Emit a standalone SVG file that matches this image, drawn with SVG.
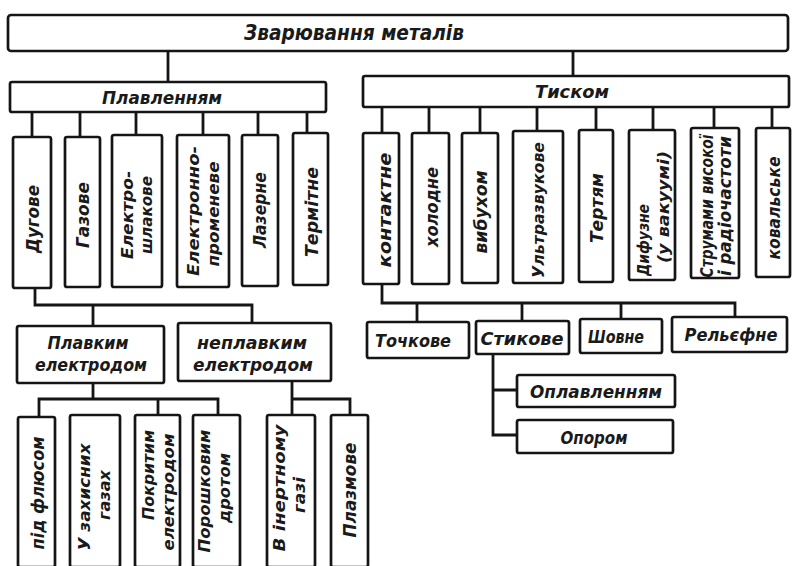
<svg xmlns="http://www.w3.org/2000/svg" width="793" height="566" viewBox="0 0 793 566">
<style>
.b{fill:#fff;stroke:#151515;stroke-width:2.7;}
.c{fill:none;stroke:#151515;stroke-width:2.8;}
text{font-family:"DejaVu Sans Condensed","Liberation Sans Narrow","Liberation Sans",sans-serif;font-style:italic;font-weight:bold;fill:#1a1a1a;text-anchor:middle;dominant-baseline:central;font-size:18px;}
.s{font-size:16px;}
.h{font-size:21px;}
</style>
<rect width="793" height="566" fill="#fff"/>
<g id="connectors">
<path class="c" d="M168 51V82M573 49V76"/>
<path class="c" d="M32 112V137M80 112V137M136 112V135M203 112V135M258 112V135M307 112V133"/>
<path class="c" d="M382 107V133M429 107V133M480 107V133M537 107V131M596 107V130M653 107V130M714 107V128M772 107V128"/>
<path class="c" d="M35 288V305H252V323M93 305V326"/>
<path class="c" d="M93 383V399M39 417V399H218V417M158 399V415"/>
<path class="c" d="M292 381V415M292 399H350V415"/>
<path class="c" d="M382 284V303H735V317M417 303V322M522 303V321M621 303V319"/>
<path class="c" d="M493 354V435H517M493 390H517"/>
</g>
<g id="n-root"><rect class="b" x="8" y="15" width="780" height="36" rx="3"/><text class="h" x="354" y="33" textLength="220" lengthAdjust="spacingAndGlyphs">Зварювання металів</text></g>
<g id="n-plav"><rect class="b" x="10" y="82" width="316" height="30" rx="2"/><text x="162" y="97" font-size="19" textLength="120" lengthAdjust="spacingAndGlyphs">Плавленням</text></g>
<g id="n-tysk"><rect class="b" x="363" y="76" width="426" height="31" rx="2"/><text x="572" y="91" font-size="19" textLength="74" lengthAdjust="spacingAndGlyphs">Тиском</text></g>

<g id="n-dug"><rect class="b" x="13" y="137" width="38" height="151" rx="2"/><text transform="translate(32 219) rotate(-90)" textLength="68" lengthAdjust="spacingAndGlyphs">Дугове</text></g>
<g id="n-gaz"><rect class="b" x="65" y="137" width="35" height="150" rx="2"/><text transform="translate(82 215) rotate(-90)" textLength="66" lengthAdjust="spacingAndGlyphs">Газове</text></g>
<g id="n-elsh"><rect class="b" x="112" y="135" width="50" height="152" rx="2"/><text class="s" transform="translate(127 215) rotate(-90)" textLength="88" lengthAdjust="spacingAndGlyphs">Електро-</text><text class="s" transform="translate(146 215) rotate(-90)" textLength="78" lengthAdjust="spacingAndGlyphs">шлакове</text></g>
<g id="n-elpr"><rect class="b" x="177" y="135" width="52" height="152" rx="2"/><text class="s" transform="translate(193 211) rotate(-90)" textLength="130" lengthAdjust="spacingAndGlyphs">Електронно-</text><text class="s" transform="translate(213 214) rotate(-90)" textLength="105" lengthAdjust="spacingAndGlyphs">променеве</text></g>
<g id="n-laz"><rect class="b" x="242" y="135" width="36" height="151" rx="2"/><text transform="translate(259 210) rotate(-90)" textLength="76" lengthAdjust="spacingAndGlyphs">Лазерне</text></g>
<g id="n-term"><rect class="b" x="293" y="133" width="35" height="152" rx="2"/><text transform="translate(311 212) rotate(-90)" textLength="90" lengthAdjust="spacingAndGlyphs">Термітне</text></g>

<g id="n-kont"><rect class="b" x="363" y="133" width="36" height="151" rx="2"/><text transform="translate(384 210) rotate(-90)" textLength="115" lengthAdjust="spacingAndGlyphs">контактне</text></g>
<g id="n-hol"><rect class="b" x="412" y="133" width="37" height="151" rx="2"/><text transform="translate(431 207) rotate(-90)" textLength="80" lengthAdjust="spacingAndGlyphs">холодне</text></g>
<g id="n-vyb"><rect class="b" x="462" y="133" width="36" height="150" rx="2"/><text transform="translate(480 212) rotate(-90)" textLength="83" lengthAdjust="spacingAndGlyphs">вибухом</text></g>
<g id="n-ult"><rect class="b" x="513" y="131" width="50" height="152" rx="2"/><text class="s" transform="translate(538 210) rotate(-90)" textLength="136" lengthAdjust="spacingAndGlyphs">Ультразвукове</text></g>
<g id="n-tert"><rect class="b" x="579" y="130" width="34" height="152" rx="2"/><text transform="translate(596 208) rotate(-90)" textLength="70" lengthAdjust="spacingAndGlyphs">Тертям</text></g>
<g id="n-dyf"><rect class="b" x="629" y="130" width="46" height="150" rx="2"/><text class="s" transform="translate(643 240) rotate(-90)" textLength="72" lengthAdjust="spacingAndGlyphs">Дифузне</text><text class="s" transform="translate(663 207) rotate(-90)" textLength="112" lengthAdjust="spacingAndGlyphs">(у вакуумі)</text></g>
<g id="n-strum"><rect class="b" x="691" y="128" width="48" height="150" rx="2"/><text font-size="15" transform="translate(706 206) rotate(-90)" textLength="143" lengthAdjust="spacingAndGlyphs">Струмами високої</text><text font-size="15" transform="translate(724 206) rotate(-90)" textLength="140" lengthAdjust="spacingAndGlyphs">і радіочастоти</text></g>
<g id="n-koval"><rect class="b" x="756" y="128" width="34" height="149" rx="2"/><text transform="translate(773 208) rotate(-90)" textLength="103" lengthAdjust="spacingAndGlyphs">ковальське</text></g>

<g id="n-plavel"><rect class="b" x="17" y="326" width="147" height="57" rx="2"/><text x="88" y="342" textLength="81" lengthAdjust="spacingAndGlyphs">Плавким</text><text x="91" y="364" textLength="112" lengthAdjust="spacingAndGlyphs">електродом</text></g>
<g id="n-neplavel"><rect class="b" x="178" y="323" width="153" height="58" rx="2"/><text x="252" y="342" textLength="110" lengthAdjust="spacingAndGlyphs">неплавким</text><text x="253" y="364" textLength="120" lengthAdjust="spacingAndGlyphs">електродом</text></g>

<g id="n-flus"><rect class="b" x="18" y="417" width="37" height="150" rx="2"/><text transform="translate(37 493) rotate(-90)" textLength="113" lengthAdjust="spacingAndGlyphs">під флюсом</text></g>
<g id="n-zah"><rect class="b" x="70" y="415" width="50" height="152" rx="2"/><text class="s" transform="translate(84 497) rotate(-90)" textLength="107" lengthAdjust="spacingAndGlyphs">У захисних</text><text class="s" transform="translate(104 495) rotate(-90)" textLength="50" lengthAdjust="spacingAndGlyphs">газах</text></g>
<g id="n-pokr"><rect class="b" x="135" y="415" width="45" height="152" rx="2"/><text class="s" transform="translate(148 475) rotate(-90)" textLength="90" lengthAdjust="spacingAndGlyphs">Покритим</text><text class="s" transform="translate(168 492) rotate(-90)" textLength="117" lengthAdjust="spacingAndGlyphs">електродом</text></g>
<g id="n-por"><rect class="b" x="193" y="415" width="47" height="152" rx="2"/><text class="s" transform="translate(204 491) rotate(-90)" textLength="123" lengthAdjust="spacingAndGlyphs">Порошковим</text><text class="s" transform="translate(224 488) rotate(-90)" textLength="70" lengthAdjust="spacingAndGlyphs">дротом</text></g>
<g id="n-inert"><rect class="b" x="267" y="415" width="48" height="152" rx="2"/><text class="s" transform="translate(279 488) rotate(-90)" textLength="127" lengthAdjust="spacingAndGlyphs">В інертному</text><text class="s" transform="translate(299 495) rotate(-90)" textLength="36" lengthAdjust="spacingAndGlyphs">газі</text></g>
<g id="n-plazm"><rect class="b" x="331" y="415" width="37" height="152" rx="2"/><text transform="translate(349 490) rotate(-90)" textLength="95" lengthAdjust="spacingAndGlyphs">Плазмове</text></g>

<g id="n-tochk"><rect class="b" x="367" y="322" width="102" height="36" rx="2"/><text x="413" y="340" textLength="76" lengthAdjust="spacingAndGlyphs">Точкове</text></g>
<g id="n-styk"><rect class="b" x="476" y="321" width="93" height="33" rx="2"/><text x="522" y="338" textLength="83" lengthAdjust="spacingAndGlyphs">Стикове</text></g>
<g id="n-shov"><rect class="b" x="580" y="319" width="82" height="34" rx="2"/><text x="616" y="336" textLength="56" lengthAdjust="spacingAndGlyphs">Шовне</text></g>
<g id="n-rel"><rect class="b" x="672" y="317" width="115" height="35" rx="2"/><text x="731" y="334" textLength="93" lengthAdjust="spacingAndGlyphs">Рельєфне</text></g>
<g id="n-oplav"><rect class="b" x="517" y="375" width="158" height="32" rx="2"/><text x="596" y="391" textLength="132" lengthAdjust="spacingAndGlyphs">Оплавленням</text></g>
<g id="n-opor"><rect class="b" x="517" y="420" width="156" height="33" rx="2"/><text x="594" y="437" textLength="67" lengthAdjust="spacingAndGlyphs">Опором</text></g>
</svg>
